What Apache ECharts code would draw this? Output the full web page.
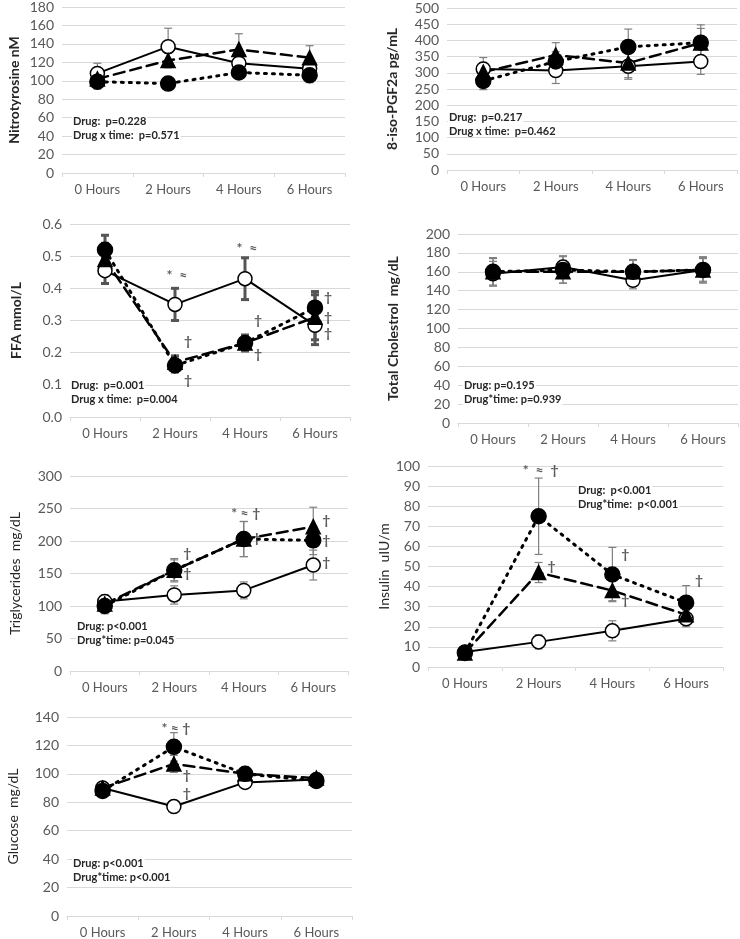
<!DOCTYPE html>
<html>
<head>
<meta charset="utf-8">
<script src="https://cdn.jsdelivr.net/npm/echarts@6/dist/echarts.min.js"></script>
<style>
  html, body { margin: 0; padding: 0; background: #fff; }
  #chart { width: 740px; height: 939px; }
</style>
</head>
<body>
<div id="chart"></div>
<script>
const hours = ['0 Hours', '2 Hours', '4 Hours', '6 Hours']

// Nitrotyrosine nM
const nitroOpen = [108, 137, 119, 113]
const nitroOpenErr = [11, 20, 8, 8]
const nitroTri = [102, 122, 134, 125]
const nitroTriErr = [8, 8, 17, 13]
const nitroFilled = [99, 97, 109, 106]
const nitroFilledErr = [8, 4, 6, 8]

// 8-iso-PGF2a pg/mL
const isoOpen = [312, 307, 320, 335]
const isoOpenErr = [35, 40, 40, 40]
const isoTri = [302, 355, 330, 392]
const isoTriErr = [30, 38, 45, 45]
const isoFilled = [275, 335, 380, 393]
const isoFilledErr = [27, 30, 55, 55]

// FFA mmol/L
const ffaOpen = [0.455, 0.35, 0.43, 0.285]
const ffaOpenErr = [0.04, 0.05, 0.065, 0.06]
const ffaTri = [0.49, 0.17, 0.23, 0.31]
const ffaTriErr = [0.05, 0.02, 0.02, 0.07]
const ffaFilled = [0.52, 0.16, 0.23, 0.34]
const ffaFilledErr = [0.045, 0.02, 0.025, 0.05]

// Total cholesterol mg/dL
const cholOpen = [158, 165, 151, 162]
const cholOpenErr = [13, 12, 9, 13]
const cholTri = [160, 160, 160, 162]
const cholTriErr = [15, 12, 13, 14]
const cholFilled = [160, 162, 160, 162]
const cholFilledErr = [14, 14, 12, 12]

// Triglycerides mg/dL
const tgOpen = [107, 117, 124, 163]
const tgOpenErr = [10, 14, 13, 23]
const tgTri = [103, 155, 203, 222]
const tgTriErr = [12, 18, 27, 30]
const tgFilled = [100, 155, 203, 201]
const tgFilledErr = [12, 16, 27, 22]

// Insulin uIU/m
const insOpen = [7.5, 12.5, 18, 24]
const insOpenErr = [1, 3.5, 5, 4]
const insTri = [7, 47, 38, 26]
const insTriErr = [1, 5, 5, 4]
const insFilled = [7, 75, 46, 32]
const insFilledErr = [1, 19, 13.5, 8.5]

// Glucose mg/dL
const gluOpen = [90, 77, 94, 96]
const gluOpenErr = [2, 2, 2, 2]
const gluTri = [90, 107, 100, 97]
const gluTriErr = [2, 6, 4, 2]
const gluFilled = [88, 119, 100, 95]
const gluFilledErr = [2, 10, 5, 3]

// significance marks: [hour index, y value, text]
const ffaMarks = [[1, 0.44, '*  ≈'], [2, 0.525, '*  ≈'], [1, 0.235, '†'], [1, 0.115, '†'],
  [2, 0.30, '†'], [2, 0.195, '†'], [3, 0.37, '†'], [3, 0.31, '†'], [3, 0.26, '†']]
const tgMarks = [[1, 181, '†'], [1, 150, '†'], [2, 242, '* ≈ †'], [2, 204, '†'],
  [3, 231, '†'], [3, 201, '†'], [3, 167, '†']]
const insMarks = [[1, 98, '*  ≈  †'], [1, 50, '†'], [2, 56, '†'], [2, 33, '†'], [3, 43, '†']]
const gluMarks = [[1, 132, '* ≈ †'], [1, 99, '†'], [1, 86, '†']]

const panels = [
  { name: 'Nitrotyrosine nM', bold: true, max: 180, step: 20, grid: [62, 7, 283, 166], gap: 41,
    open: [nitroOpen, nitroOpenErr], tri: [nitroTri, nitroTriErr], filled: [nitroFilled, nitroFilledErr],
    marks: [], stats: ['Drug:  p=0.228', 'Drug x time:  p=0.571'], statPos: [72, 123] },
  { name: '8-iso-PGF2a pg/mL', bold: true, max: 500, step: 50, grid: [447, 8, 290, 162], gap: 48,
    open: [isoOpen, isoOpenErr], tri: [isoTri, isoTriErr], filled: [isoFilled, isoFilledErr],
    marks: [], stats: ['Drug:  p=0.217', 'Drug x time:  p=0.462'], statPos: [448, 119] },
  { name: 'FFA mmol/L', bold: true, max: 0.6, step: 0.1, grid: [70, 224, 280, 193], gap: 47, dec: 1,
    open: [ffaOpen, ffaOpenErr], tri: [ffaTri, ffaTriErr], filled: [ffaFilled, ffaFilledErr], thickErr: true,
    marks: ffaMarks, stats: ['Drug:  p=0.001', 'Drug x time:  p=0.004'], statPos: [70, 387] },
  { name: 'Total Cholestrol  mg/dL', bold: true, max: 200, step: 20, grid: [458, 234, 280, 189], gap: 58,
    open: [cholOpen, cholOpenErr], tri: [cholTri, cholTriErr], filled: [cholFilled, cholFilledErr],
    marks: [], stats: ['Drug: p=0.195', 'Drug*time: p=0.939'], statPos: [463, 387] },
  { name: 'Triglycerides  mg/dL', bold: false, max: 300, step: 50, grid: [70, 476, 278, 195], gap: 48,
    open: [tgOpen, tgOpenErr], tri: [tgTri, tgTriErr], filled: [tgFilled, tgFilledErr],
    marks: tgMarks, stats: ['Drug: p<0.001', 'Drug*time: p=0.045'], statPos: [76, 628] },
  { name: 'Insulin  uIU/m', bold: false, max: 100, step: 10, grid: [428, 466, 295, 201], gap: 37,
    open: [insOpen, insOpenErr], tri: [insTri, insTriErr], filled: [insFilled, insFilledErr],
    marks: insMarks, stats: ['Drug:  p<0.001', 'Drug*time:  p<0.001'], statPos: [577, 492] },
  { name: 'Glucose  mg/dL', bold: false, max: 140, step: 20, grid: [67, 717, 285, 199], gap: 47,
    open: [gluOpen, gluOpenErr], tri: [gluTri, gluTriErr], filled: [gluFilled, gluFilledErr],
    marks: gluMarks, stats: ['Drug: p<0.001', 'Drug*time: p<0.001'], statPos: [72, 865] }
]

const FONT = 'Lato'
const groups = [
  { key: 'open', symbol: 'circle', size: 14, fill: '#fff', line: 'solid', width: 2 },
  { key: 'tri', symbol: 'triangle', size: 14, fill: '#000', line: [11, 6], width: 2.5 },
  { key: 'filled', symbol: 'circle', size: 15, fill: '#000', line: [2, 6], width: 3 }
]

function errorRenderer (thick) {
  return function (params, api) {
    const i = api.value(0)
    const v = api.value(1)
    const e = api.value(2)
    const top = api.coord([i, v + e])
    const bot = api.coord([i, v - e])
    const cap = 4
    const style = { stroke: thick ? '#555' : '#808080', lineWidth: thick ? 3 : 1.2 }
    return {
      type: 'group',
      children: [
        { type: 'line', shape: { x1: top[0], y1: top[1], x2: bot[0], y2: bot[1] }, style },
        { type: 'line', shape: { x1: top[0] - cap, y1: top[1], x2: top[0] + cap, y2: top[1] }, style },
        { type: 'line', shape: { x1: bot[0] - cap, y1: bot[1], x2: bot[0] + cap, y2: bot[1] }, style }
      ]
    }
  }
}

const option = {
  backgroundColor: '#fff',
  animation: false,
  grid: [], xAxis: [], yAxis: [], series: [], graphic: []
}

panels.forEach((p, k) => {
  option.grid.push({ left: p.grid[0], top: p.grid[1], width: p.grid[2], height: p.grid[3] })
  option.xAxis.push({
    type: 'category', gridIndex: k, data: hours, boundaryGap: true,
    axisLine: { lineStyle: { color: '#d9d9d9' } },
    axisTick: { show: true, length: 4, lineStyle: { color: '#d9d9d9' } },
    axisLabel: { color: '#595959', fontFamily: FONT, fontSize: 13, margin: 10 }
  })
  option.yAxis.push({
    type: 'value', gridIndex: k, min: 0, max: p.max, interval: p.step,
    name: p.name, nameLocation: 'middle', nameGap: p.gap, nameRotate: 90,
    nameTextStyle: { color: '#262626', fontFamily: FONT, fontSize: 14, fontWeight: p.bold ? 'bold' : 'normal' },
    axisLine: { show: false }, axisTick: { show: false },
    splitLine: { lineStyle: { color: '#d9d9d9' } },
    axisLabel: {
      color: '#595959', fontFamily: FONT, fontSize: 14, margin: 8,
      formatter: v => p.dec ? v.toFixed(p.dec) : v
    }
  })
  groups.forEach(g => {
    const vals = p[g.key][0]
    const errs = p[g.key][1]
    option.series.push({
      type: 'custom', xAxisIndex: k, yAxisIndex: k, z: 1,
      renderItem: errorRenderer(p.thickErr),
      data: hours.map((h, i) => [i, vals[i], errs[i]])
    })
  })
  groups.forEach(g => {
    option.series.push({
      type: 'line', xAxisIndex: k, yAxisIndex: k, z: 3,
      data: p[g.key][0],
      symbol: g.symbol, symbolSize: g.size, showAllSymbol: true,
      lineStyle: { color: '#000', width: g.width, type: g.line, cap: 'round' },
      itemStyle: { color: g.fill, borderColor: '#000', borderWidth: 1.5 }
    })
  })
  if (p.marks.length) {
    option.series.push({
      type: 'scatter', xAxisIndex: k, yAxisIndex: k, z: 4,
      symbolSize: 1, itemStyle: { color: 'rgba(0,0,0,0)' },
      silent: true,
      data: p.marks.map(m => ({
        value: [m[0], m[1]],
        label: {
          show: true, position: 'inside', formatter: m[2],
          offset: [m[2] === '†' ? 13 : 2, 0],
          color: '#333', fontFamily: FONT, fontSize: 14, fontWeight: 'bold'
        }
      }))
    })
  }
  p.stats.forEach((s, j) => {
    option.graphic.push({
      type: 'text', z: 100, left: p.statPos[0], top: p.statPos[1] + j * 14 - 7,
      style: { text: s, fill: '#262626', font: 'bold 11px ' + FONT, backgroundColor: '#fff', padding: [0, 1] }
    })
  })
})

const chart = echarts.init(document.getElementById('chart'))
chart.setOption(option)
</script>
</body>
</html>
